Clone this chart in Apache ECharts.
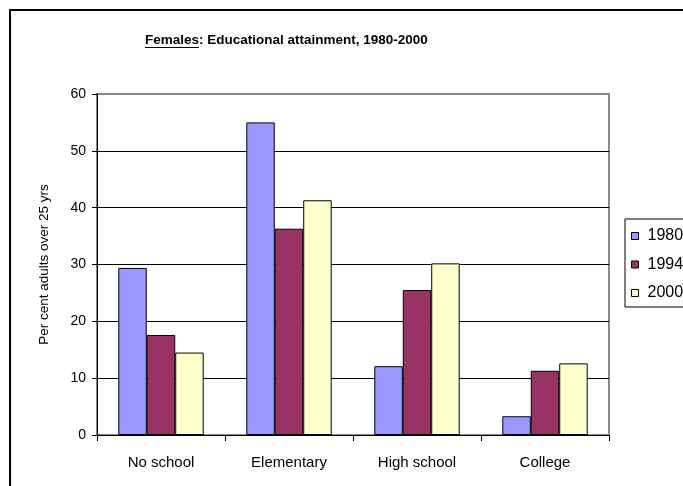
<!DOCTYPE html>
<html>
<head>
<meta charset="utf-8">
<script src="https://cdn.jsdelivr.net/npm/echarts@6/dist/echarts.min.js"></script>
<style>
  html, body { margin: 0; padding: 0; background: #fff; }
  #chart { width: 683px; height: 486px; }
</style>
</head>
<body>
<div id="chart"></div>
<script>
// Educational attainment of females (per cent of adults over 25 years)
const categories = ['No school', 'Elementary', 'High school', 'College'];
const seriesNames = ['1980', '1994', '2000'];
const values1980 = [29.4, 55.0, 12.1, 3.3];
const values1994 = [17.6, 36.3, 25.5, 11.3];
const values2000 = [14.5, 41.3, 30.2, 12.6];
const yTicks = [0, 10, 20, 30, 40, 50, 60];

const colors = ['#9999FF', '#993366', '#FFFFCC'];
const FONT = '"Liberation Sans", Arial, sans-serif';

const chart = echarts.init(document.getElementById('chart'), null, { renderer: 'canvas' });

const seriesData = [values1980, values1994, values2000];

chart.setOption({
  animation: false,
  backgroundColor: '#fff',
  textStyle: { fontFamily: FONT },
  title: {
    text: '{u|Females}: Educational attainment, 1980-2000',
    left: 145,
    top: 32,
    padding: 0,
    textStyle: {
      fontFamily: FONT,
      fontSize: 13.5,
      fontWeight: 'bold',
      color: '#000',
      lineHeight: 16,
      rich: {
        u: { fontFamily: FONT, fontSize: 13.5, fontWeight: 'bold', color: '#000', lineHeight: 16 }
      }
    }
  },
  graphic: [
    // outer chart frame
    {
      type: 'rect', silent: true, z: -1,
      shape: { x: 10, y: 10, width: 900, height: 700 },
      style: { fill: 'none', stroke: '#000', lineWidth: 2 }
    },
    // underline beneath "Females"
    {
      type: 'line', silent: true,
      shape: { x1: 145, y1: 47.5, x2: 199, y2: 47.5 },
      style: { stroke: '#000', lineWidth: 1 }
    }
  ],
  legend: {
    data: seriesNames,
    orient: 'vertical',
    left: 625,
    top: 219,
    padding: [9, 6, 6, 6],
    itemGap: 12.5,
    itemWidth: 7,
    itemHeight: 7,
    icon: 'rect',
    borderColor: '#000',
    borderWidth: 1,
    backgroundColor: '#fff',
    itemStyle: { borderColor: '#000', borderWidth: 1 },
    textStyle: { fontFamily: FONT, fontSize: 16, color: '#000', lineHeight: 16, padding: [0, 0, 0, 4] }
  },
  grid: {
    left: 97,
    top: 94,
    width: 512,
    height: 341,
    show: true,
    borderColor: '#888',
    borderWidth: 2,
    backgroundColor: '#fff'
  },
  xAxis: {
    type: 'category',
    data: categories,
    boundaryGap: true,
    axisLine: { show: true, lineStyle: { color: '#000', width: 1 } },
    axisTick: { show: true, alignWithLabel: false, length: 6, lineStyle: { color: '#000' } },
    axisLabel: { fontFamily: FONT, fontSize: 15, color: '#000', margin: 20 },
    splitLine: { show: false }
  },
  yAxis: {
    type: 'value',
    min: yTicks[0],
    max: yTicks[yTicks.length - 1],
    interval: yTicks[1] - yTicks[0],
    name: 'Per cent adults over 25 yrs',
    nameLocation: 'middle',
    nameRotate: 90,
    nameGap: 46,
    nameTextStyle: { fontFamily: FONT, fontSize: 13.5, color: '#000' },
    axisLine: { show: true, lineStyle: { color: '#000', width: 1 } },
    axisTick: { show: true, inside: false, length: 5, lineStyle: { color: '#000' } },
    axisLabel: { fontFamily: FONT, fontSize: 14, color: '#000', margin: 11 },
    splitLine: { show: true, showMinLine: false, showMaxLine: false, lineStyle: { color: '#000', width: 1 } }
  },
  series: seriesNames.map((name, i) => ({
    name: name,
    type: 'bar',
    data: seriesData[i],
    barGap: '0%',
    barCategoryGap: '33.3%',
    itemStyle: { color: colors[i], borderColor: '#000', borderWidth: 1 }
  }))
});
</script>
</body>
</html>
